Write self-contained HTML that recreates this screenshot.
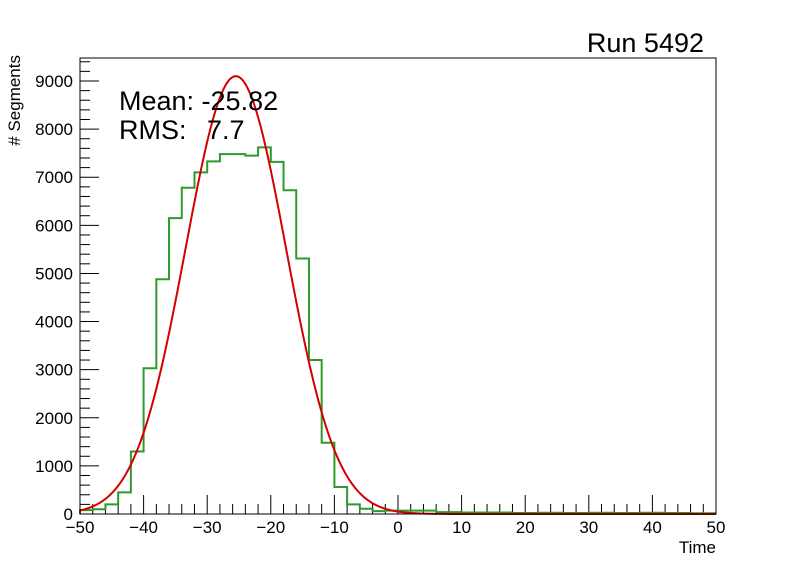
<!DOCTYPE html>
<html><head><meta charset="utf-8"><style>
body{margin:0;background:#fff;width:796px;height:572px;overflow:hidden}
svg{font-family:"Liberation Sans",sans-serif}
</style></head><body>
<svg id="chart" width="796" height="572" xmlns="http://www.w3.org/2000/svg">
<rect x="0" y="0" width="796" height="572" fill="#fff"/>
<g id="axes"></g>
<g id="marks"></g>
<rect x="80" y="58" width="636" height="456" fill="none" stroke="#000" stroke-width="1"/>
<text x="704" y="52" font-size="27" text-anchor="end">Run 5492</text>
<text x="119" y="110" font-size="27">Mean: -25.82</text>
<text x="119" y="139" font-size="27">RMS:<tspan x="207">7.7</tspan></text>
<text transform="translate(20,55) rotate(-90)" font-size="17" text-anchor="end"># Segments</text>
<text x="716" y="553" font-size="17" text-anchor="end">Time</text>
</svg>
<script>
const binEdges0 = -50;
const binWidth = 2;
const counts = [80,100,200,450,1300,3030,4880,6150,6780,7100,7330,7480,7480,7450,7620,7320,6730,5310,3200,1480,560,200,110,60,70,70,70,70,40,40,30,30,30,30,20,20,25,25,20,20,25,25,20,20,25,25,20,20,15,15];
const fitAmp = 9100;
const fitMean = -25.5;
const fitSigma = 7.9;
const xTicks = [-50,-40,-30,-20,-10,0,10,20,30,40,50];
const yTicks = [0,1000,2000,3000,4000,5000,6000,7000,8000,9000];

const X0=80,X1=716,Y0=514,Y9=81;
const xs=v=>X0+(v+50)/100*(X1-X0);
const ys=v=>Y0-v/9000*(Y0-Y9);
const NS="http://www.w3.org/2000/svg";
const axes=document.getElementById('axes'),marks=document.getElementById('marks');
function mk(tag,attrs,parent){const e=document.createElementNS(NS,tag);for(const k in attrs)e.setAttribute(k,attrs[k]);parent.appendChild(e);return e;}
for(let v=0;v<=9400;v+=200){
  const major=v%1000===0;
  const t=mk('line',{x1:X0,x2:X0+(major?19:10),y1:ys(v),y2:ys(v),stroke:'#000'},axes);
  
  
}
yTicks.forEach(v=>{
  const t=mk('text',{x:73,y:ys(v)+6,'font-size':17,'text-anchor':'end'},axes);t.textContent=v;
  
  
});
for(let v=-50;v<=50;v+=2){
  const major=v%10===0;
  const t=mk('line',{x1:xs(v),x2:xs(v),y1:Y0,y2:Y0-(major?19:10),stroke:'#000'},axes);
  
  
}
xTicks.forEach(v=>{
  const t=mk('text',{x:xs(v),y:533,'font-size':17,'text-anchor':'middle'},axes);t.textContent=(v<0?'\u2212':'')+Math.abs(v);
  
  
});
let d='M'+xs(binEdges0)+','+ys(0);
counts.forEach((c,i)=>{const a=binEdges0+i*binWidth;d+=' L'+xs(a)+','+ys(c)+' L'+xs(a+binWidth)+','+ys(c);});
const h=mk('path',{d:d,fill:'none',stroke:'#2e9a2e','stroke-width':2},marks);


let f='';
for(let x=-50;x<=50.001;x+=0.25){const y=fitAmp*Math.exp(-Math.pow(x-fitMean,2)/(2*fitSigma*fitSigma));f+=(f?' L':'M')+xs(x).toFixed(2)+','+ys(y).toFixed(2);}
const fl=mk('path',{d:f,fill:'none',stroke:'#d40000','stroke-width':2},marks);


</script>
</body></html>
